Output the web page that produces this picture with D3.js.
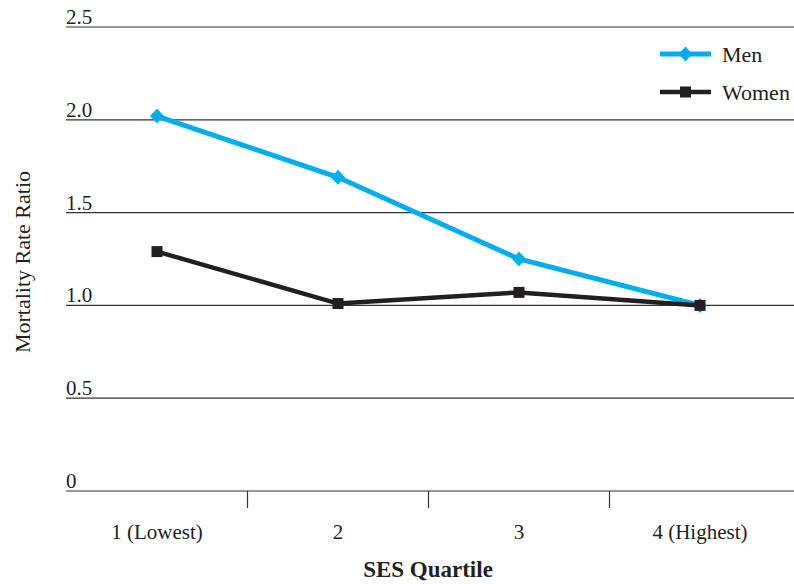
<!DOCTYPE html>
<html><head><meta charset="utf-8">
<script src="https://cdnjs.cloudflare.com/ajax/libs/d3/7.8.5/d3.min.js"></script>
<style>body{margin:0;background:#fff}svg{display:block}text{font-family:"Liberation Serif","Times New Roman",serif;fill:#231f20}</style>
</head><body><svg id="c" width="794" height="584"></svg>
<script>
const categories = ["1 (Lowest)", "2", "3", "4 (Highest)"];
const menValues = [2.02, 1.69, 1.25, 1.0];
const womenValues = [1.29, 1.01, 1.07, 1.0];
const yTicks = [0, 0.5, 1.0, 1.5, 2.0, 2.5];
const yTickLabels = ["0", "0.5", "1.0", "1.5", "2.0", "2.5"];
const seriesNames = ["Men", "Women"];

const svg = d3.select("#c");
const x = d3.scaleLinear().domain([0, 3]).range([157, 700]);
const y = d3.scaleLinear().domain([0, 2.5]).range([491, 27]);
const left = 66, right = 794;

const g = svg.append("g");
yTicks.forEach((t, i) => {
  g.append("line").attr("x1", left).attr("x2", right).attr("y1", y(t)).attr("y2", y(t))
    .attr("stroke", "#333").attr("stroke-width", 1.2);
  g.append("text").attr("x", left).attr("y", y(t) - 3).attr("font-size", 21).text(yTickLabels[i]);
});
for (let i = 0; i < categories.length - 1; i++) {
  const xx = x(i + 0.5);
  g.append("line").attr("x1", xx).attr("x2", xx).attr("y1", y(0)).attr("y2", y(0) + 17)
    .attr("stroke", "#333").attr("stroke-width", 1.2);
}
categories.forEach((c, i) => {
  g.append("text").attr("x", x(i)).attr("y", 539).attr("text-anchor", "middle").attr("font-size", 21).text(c);
});
svg.append("text").attr("x", 428).attr("y", 577).attr("text-anchor", "middle")
  .attr("font-size", 23).attr("font-weight", "bold").text("SES Quartile");
svg.append("text").attr("transform", "translate(30,262) rotate(-90)").attr("text-anchor", "middle")
  .attr("font-size", 22).text("Mortality Rate Ratio");

const line = d3.line().x((d, i) => x(i)).y(d => y(d));
const blue = "#00aeef", black = "#231f20";
const diamondType = {draw(ctx, size) { const w = 7, h = 7.5; ctx.moveTo(0, -h); ctx.lineTo(w, 0); ctx.lineTo(0, h); ctx.lineTo(-w, 0); ctx.closePath(); }};
const diamond = d3.symbol().type(diamondType).size(1);
const square = d3.symbol().type(d3.symbolSquare).size(121);

svg.append("path").datum(menValues).attr("d", line).attr("fill", "none").attr("stroke", blue).attr("stroke-width", 5);
svg.selectAll(".mm").data(menValues).join("path").attr("d", diamond)
  .attr("transform", (d, i) => `translate(${x(i)},${y(d)})`).attr("fill", blue);
svg.append("path").datum(womenValues).attr("d", line).attr("fill", "none").attr("stroke", black).attr("stroke-width", 4.5);
svg.selectAll(".wm").data(womenValues).join("path").attr("d", square)
  .attr("transform", (d, i) => `translate(${x(i)},${y(d)})`).attr("fill", black);

const leg = [{n: seriesNames[0], c: blue, s: diamond, w: 5}, {n: seriesNames[1], c: black, s: square, w: 4.5}];
leg.forEach((l, i) => {
  const ly = 54 + i * 38;
  svg.append("line").attr("x1", 660).attr("x2", 711).attr("y1", ly).attr("y2", ly).attr("stroke", l.c).attr("stroke-width", l.w);
  svg.append("path").attr("d", l.s).attr("transform", `translate(685.5,${ly})`).attr("fill", l.c);
  svg.append("text").attr("x", 722).attr("y", ly + 8).attr("font-size", 22).text(l.n);
});
</script></body></html>
